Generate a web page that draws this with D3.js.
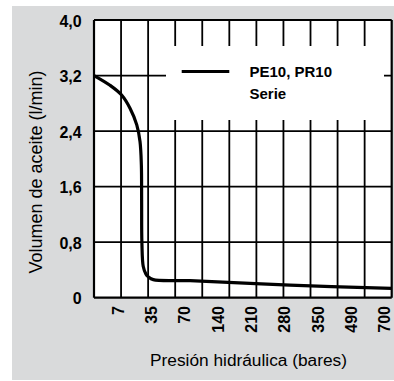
<!DOCTYPE html>
<html><head><meta charset="utf-8">
<script src="https://cdn.jsdelivr.net/npm/d3@7"></script>
<style>
html,body{margin:0;padding:0;background:#fff;}
svg{display:block;font-family:"Liberation Sans",Arial,sans-serif;}
</style></head>
<body>
<svg id="c" width="394" height="381"></svg>
<script>
// ---- data ----
const yTickValues = [0, 0.8, 1.6, 2.4, 3.2, 4.0];
const yTickLabels = ["0", "0,8", "1,6", "2,4", "3,2", "4,0"];
const xTickLabels = ["7", "35", "70", "140", "210", "280", "350", "490", "700"];
const gridDivisions = 11;
// curve position along the grid (grid units 0..11) and flow (l/min)
const curveX = [0, 0.59, 1.02, 1.33, 1.58, 1.70, 1.75, 1.76, 1.77, 1.82, 1.92, 2.01, 2.19, 3.55, 7.24, 11];
const curveY = [3.20, 3.06, 2.92, 2.73, 2.49, 2.25, 1.91, 1.41, 0.79, 0.45, 0.34, 0.30, 0.26, 0.245, 0.18, 0.135];
const seriesName = ["PE10, PR10", "Serie"];
const xTitle = "Presión hidráulica (bares)";
const yTitle = "Volumen de aceite (l/min)";

// ---- layout ----
const W = 394, H = 381;
const m = {left: 94, top: 20, right: 391.7, bottom: 297.7};
const svg = d3.select("#c");

svg.append("rect").attr("x", 12).attr("y", 6).attr("width", W - 12).attr("height", 374).attr("fill", "#d9dadb");
svg.append("rect").attr("x", m.left).attr("y", m.top).attr("width", m.right - m.left).attr("height", m.bottom - m.top).attr("fill", "#fff");

const x = d3.scaleLinear().domain([0, gridDivisions]).range([m.left, m.right]);
const y = d3.scaleLinear().domain([0, 4]).range([m.bottom, m.top]);
const xl = d3.scalePoint().domain(xTickLabels).range([x(0.887), x(10.73)]);

// grid
const g = svg.append("g");
g.selectAll("line.v").data(x.ticks(gridDivisions)).join("line")
  .attr("x1", d => x(d)).attr("x2", d => x(d)).attr("y1", m.top).attr("y2", m.bottom)
  .attr("stroke", "#000").attr("stroke-width", d => (d === 0 || d === gridDivisions) ? 2.2 : 1.8);
g.selectAll("line.h").data(yTickValues).join("line")
  .attr("x1", m.left).attr("x2", m.right).attr("y1", d => y(d)).attr("y2", d => y(d))
  .attr("stroke", "#000").attr("stroke-width", (d, i) => (i === 0 || i === yTickValues.length - 1) ? 2.2 : 1.8);

// legend box
svg.append("rect").attr("x", 166).attr("y", 46).attr("width", 218).attr("height", 74).attr("fill", "#fff");
svg.append("line").attr("x1", 181.7).attr("x2", 229.3).attr("y1", 71.5).attr("y2", 71.5)
  .attr("stroke", "#000").attr("stroke-width", 3.2);
svg.append("text").attr("x", 249.5).attr("y", 76.5).attr("font-size", 15).attr("font-weight", "bold").text(seriesName[0]);
svg.append("text").attr("x", 249.5).attr("y", 99).attr("font-size", 15).attr("font-weight", "bold").text(seriesName[1]);

// curve
const pts = curveX.map((d, i) => [d, curveY[i]]);
svg.append("path").datum(pts)
  .attr("d", d3.line().x(d => x(d[0])).y(d => y(d[1])).curve(d3.curveCatmullRom.alpha(0.5)))
  .attr("fill", "none").attr("stroke", "#000").attr("stroke-width", 3.2).attr("stroke-linejoin", "round");

// y tick labels
svg.append("g").selectAll("text").data(yTickValues).join("text")
  .attr("x", 81.7).attr("y", d => y(d)).attr("dy", "0.42em")
  .attr("text-anchor", "end").attr("font-size", 16).attr("font-weight", "bold")
  .text((d, i) => yTickLabels[i]);

// x tick labels (rotated)
svg.append("g").selectAll("text").data(xTickLabels).join("text")
  .attr("transform", d => `translate(${xl(d)},306) rotate(-90)`)
  .attr("dy", "0.36em").attr("text-anchor", "end")
  .attr("font-size", 16).attr("font-weight", "bold").text(d => d);

// titles
svg.append("text").attr("x", 248.5).attr("y", 365.5).attr("text-anchor", "middle")
  .attr("font-size", 17.3).text(xTitle);
svg.append("text").attr("transform", "translate(42,172) rotate(-90)").attr("text-anchor", "middle")
  .attr("font-size", 18).text(yTitle);
</script>
</body></html>
